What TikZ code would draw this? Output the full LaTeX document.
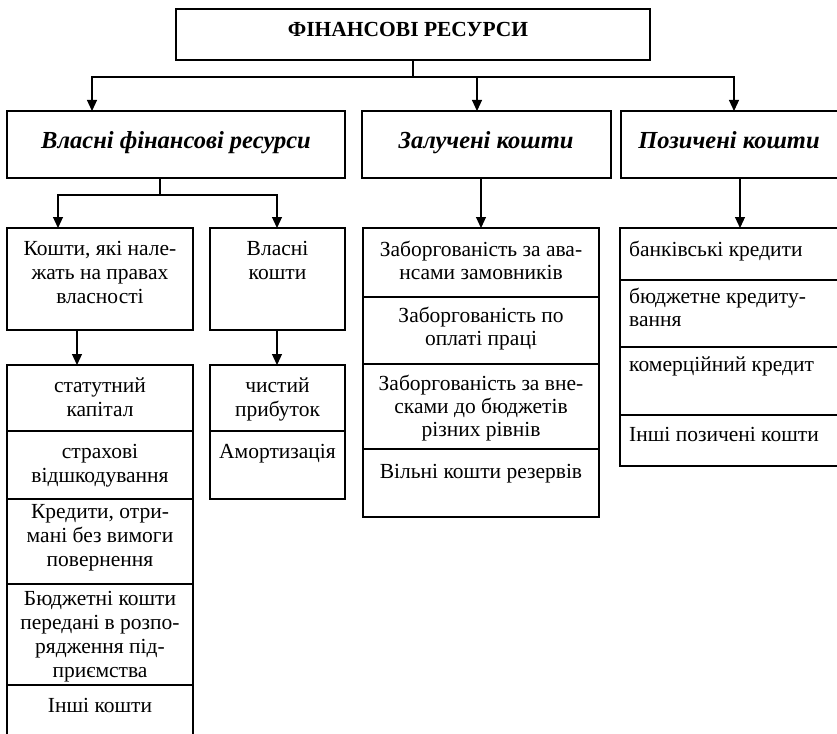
\documentclass[tikz,border=0pt]{standalone}
\usepackage{fontspec}
\setmainfont{Liberation Serif}
\usetikzlibrary{arrows.meta}
\begin{document}
\begin{tikzpicture}[x=1pt,y=-1pt,
  box/.style={draw, line width=1.2pt, rectangle, inner sep=0pt, outer sep=0pt, anchor=north west},
  arr/.style={line width=1.1pt, -{Triangle[width=10pt,length=11pt]}},
  ln/.style={line width=1.1pt},
  txt/.style={font=\fontsize{21.5}{24}\selectfont, align=center, inner sep=0pt, anchor=north},
  txtb/.style={txt, font=\fontsize{21.5}{23}\selectfont},
  txtl/.style={txtb, align=left, anchor=north west},
  hd/.style={font=\fontsize{24.5}{28}\selectfont\bfseries\itshape, anchor=base, inner sep=0pt},
]
\useasboundingbox (0,0) rectangle (837,733);
\clip (0,0) rectangle (837,733);

% top
\node[box, minimum width=474pt, minimum height=51pt] (top) at (176,9) {};
\node[font=\fontsize{21.5}{24}\selectfont\bfseries, anchor=base, inner sep=0pt] (ttop) at (408,37) {ФІНАНСОВІ РЕСУРСИ};

% level 2
\node[box, minimum width=338pt, minimum height=67pt] (l1) at (7,111) {};
\node[box, minimum width=249pt, minimum height=67pt] (l2) at (362,111) {};
\node[box, minimum width=217pt, minimum height=67pt] (l3) at (621,111) {};
\node[hd] (tl1) at (176,148) {Власні фінансові ресурси};
\node[hd] (tl2) at (486,148) {Залучені кошти};
\node[hd] (tl3) at (729,148) {Позичені кошти};

% level 3
\node[box, minimum width=186pt, minimum height=102pt] (a) at (7,228) {};
\node[box, minimum width=135pt, minimum height=102pt] (b) at (210,228) {};
\node[txt] (ta) at (100,238.2) {\strut Кошти, які нале-\\жать на правах\\власності};
\node[txt] (tb) at (277.5,238.2) {\strut Власні\\кошти};

% left stack
\node[box, minimum width=186pt, minimum height=66pt] (a1) at (7,365) {};
\node[box, minimum width=186pt, minimum height=68pt] (a2) at (7,431) {};
\node[box, minimum width=186pt, minimum height=85pt] (a3) at (7,499) {};
\node[box, minimum width=186pt, minimum height=101pt] (a4) at (7,584) {};
\node[box, minimum width=186pt, minimum height=60pt] (a5) at (7,685) {};
\node[txt] (ta1) at (100,375.2) {\strut статутний\\капітал};
\node[txt] (ta2) at (100,441.7) {\strut страхові\\відшкодування};
\node[txt] (ta3) at (100,501.5) {\strut Кредити, отри-\\мані без вимоги\\повернення};
\node[txt] (ta4) at (100,588.7) {\strut Бюджетні кошти\\передані в розпо-\\рядження під-\\приємства};
\node[txt] (ta5) at (100,695.7) {\strut Інші кошти};

% second stack
\node[box, minimum width=135pt, minimum height=66pt] (b1) at (210,365) {};
\node[box, minimum width=135pt, minimum height=68pt] (b2) at (210,431) {};
\node[txt] (tb1) at (277.5,375.2) {\strut чистий\\прибуток};
\node[txt] (tb2) at (277.5,441.7) {\strut Амортизація};

% zaluch stack
\node[box, minimum width=236pt, minimum height=69pt] (z1) at (363,228) {};
\node[box, minimum width=236pt, minimum height=67pt] (z2) at (363,297) {};
\node[box, minimum width=236pt, minimum height=85pt] (z3) at (363,364) {};
\node[box, minimum width=236pt, minimum height=68pt] (z4) at (363,449) {};
\node[txtb] (tz1) at (481,239.9) {\strut Заборгованість за ава-\\нсами замовників};
\node[txtb] (tz2) at (481,306.4) {\strut Заборгованість по\\оплаті праці};
\node[txtb] (tz3) at (481,374.4) {\strut Заборгованість за вне-\\сками до бюджетів\\різних рівнів};
\node[txtb] (tz4) at (481,462.4) {\strut Вільні кошти резервів};

% pozych stack
\node[box, minimum width=218pt, minimum height=52pt] (p1) at (620,228) {};
\node[box, minimum width=218pt, minimum height=67pt] (p2) at (620,280) {};
\node[box, minimum width=218pt, minimum height=68pt] (p3) at (620,347) {};
\node[box, minimum width=218pt, minimum height=51pt] (p4) at (620,415) {};
\node[txtl] (tp1) at (629,240.4) {\strut банківські кредити};
\node[txtl] (tp2) at (629,287.4) {\strut бюджетне кредиту-\\вання};
\node[txtl] (tp3) at (629,355.4) {\strut комерційний кредит};
\node[txtl] (tp4) at (629,425.4) {\strut Інші позичені кошти};

% connectors
\coordinate (bus) at (413,77);
\coordinate (x1) at (92,0);
\coordinate (x2) at (477,0);
\coordinate (x3) at (734,0);
\draw[ln] (top.south) -- (bus);
\draw[arr] (bus) -| (l1.north -| x1);
\draw[arr] (bus) -| (l2.north -| x2);
\draw[arr] (bus) -| (l3.north -| x3);

\coordinate (j1) at (160,195);
\coordinate (xa) at (58,0);
\coordinate (xb) at (277,0);
\coordinate (xc) at (77,0);
\coordinate (xz) at (481,0);
\coordinate (xp) at (740,0);
\draw[ln] (l1.south -| j1) -- (j1);
\draw[arr] (j1) -| (a.north -| xa);
\draw[arr] (j1) -| (b.north -| xb);
\draw[arr] (a.south -| xc) -- (a1.north -| xc);
\draw[arr] (b.south -| xb) -- (b1.north -| xb);
\draw[arr] (l2.south -| xz) -- (z1.north -| xz);
\draw[arr] (l3.south -| xp) -- (p1.north -| xp);
\end{tikzpicture}
\end{document}
